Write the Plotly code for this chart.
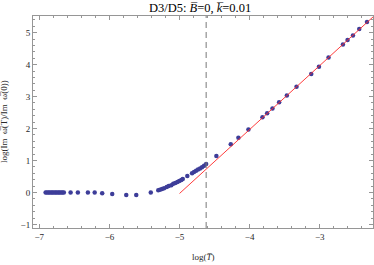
import plotly.graph_objects as go

log_T = [-6.91, -6.89, -6.87, -6.85, -6.83, -6.81, -6.79, -6.77, -6.75, -6.73, -6.71, -6.69, -6.67, -6.65,
         -6.554, -6.45, -6.307, -6.21, -6.103, -5.96, -5.76, -5.617, -5.41,
         -5.303, -5.279, -5.25, -5.22, -5.183, -5.154, -5.117, -5.089, -5.06, -5.03, -5.003, -4.974, -4.954,
         -4.889, -4.821, -4.793, -4.764, -4.736, -4.707, -4.679, -4.65, -4.62,
         -4.474, -4.269, -4.16, -4.017, -3.817, -3.75, -3.674, -3.579, -3.469, -3.331, -3.121, -3.011,
         -2.874, -2.669, -2.603, -2.526, -2.436, -2.326]
log_ratio = [0, 0, 0, 0, 0, 0, 0, 0, 0, 0, 0, 0, 0, 0,
             0, 0, 0, 0, -0.02, -0.05, -0.08, -0.08, 0.0,
             0.07, 0.09, 0.11, 0.13, 0.17, 0.20, 0.23, 0.27, 0.30, 0.33, 0.36, 0.39, 0.42,
             0.52, 0.60, 0.64, 0.68, 0.72, 0.75, 0.79, 0.84, 0.89,
             1.14, 1.51, 1.71, 1.97, 2.35, 2.48, 2.63, 2.82, 3.03, 3.31, 3.71, 3.93,
             4.22, 4.63, 4.77, 4.91, 5.11, 5.33]

fit_x = [-5.0, -2.2]
fit_y = [-0.03, 5.57]

cutoff_x = -4.62

fig = go.Figure()
fig.add_trace(go.Scatter(x=log_T, y=log_ratio, mode="markers",
                         marker=dict(color="rgb(61,61,153)", size=4.5, line=dict(width=0)),
                         showlegend=False, cliponaxis=True))
fig.add_trace(go.Scatter(x=fit_x, y=fit_y, mode="lines",
                         line=dict(color="rgba(255,40,40,0.9)", width=1),
                         showlegend=False))
fig.add_shape(type="line", x0=cutoff_x, x1=cutoff_x, y0=0, y1=1, yref="paper", xref="x",
              line=dict(color="rgb(120,120,120)", width=1, dash="6px,4px"))

axis_common = dict(
    showline=True, linecolor="rgb(150,150,150)", linewidth=1, mirror="allticks",
    ticks="inside", ticklen=4, tickcolor="rgb(150,150,150)", tickwidth=1,
    showgrid=False, zeroline=False, automargin=False,
    tickfont=dict(family="Liberation Serif", size=9, color="rgb(40,40,40)"),
    minor=dict(ticks="inside", ticklen=2, tickcolor="rgb(150,150,150)", dtick=0.2, showgrid=False),
)

fig.update_layout(
    width=374, height=265,
    margin=dict(l=33, r=1, t=16, b=37),
    paper_bgcolor="white", plot_bgcolor="white",
    xaxis=dict(range=[-7.09, -2.24], dtick=1, tick0=0, **axis_common),
    yaxis=dict(range=[-1.11, 5.52], dtick=1, tick0=0, **axis_common),
    title=dict(text="D3/D5: <i>B̅</i>=0, <i>k̅</i>=0.01", x=0.535, xanchor="center",
               y=0.97, yanchor="middle",
               font=dict(family="Liberation Serif", size=12.5, color="black")),
    annotations=[
        dict(text="log(<i>T̅</i>)", x=0.5, xref="paper", y=-0.137, yref="paper",
             xanchor="center", yanchor="middle", showarrow=False,
             font=dict(family="Liberation Serif", size=9, color="rgb(40,40,40)")),
        dict(text="log(Im  ω̅(T)/Im  ω̅(0))", x=-0.085, xref="paper", y=0.5, yref="paper",
             xanchor="center", yanchor="middle", showarrow=False, textangle=-90,
             font=dict(family="Liberation Serif", size=9, color="rgb(40,40,40)")),
    ],
)

fig.write_html("out.html", config={"displayModeBar": False},
               post_script="document.body.style.margin='0px';document.body.style.overflow='hidden';")
